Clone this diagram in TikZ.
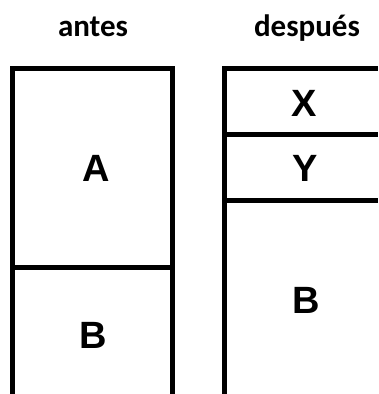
\documentclass[tikz,border=0pt]{standalone}
\usepackage{fontspec}
\newfontfamily\titlefont{Carlito}
\newfontfamily\letterfont{Liberation Sans}
\begin{document}
\begin{tikzpicture}[x=1pt,y=-1pt,
  wall/.style={line width=5pt,line join=miter,draw=black},
  title/.style={anchor=base,inner sep=0pt,font=\titlefont\bfseries\fontsize{31}{31}\selectfont},
  letter/.style={anchor=base,inner sep=0pt,font=\letterfont\bfseries\fontsize{38}{38}\selectfont}]
\useasboundingbox (0,0) rectangle (378,394);
% left stack
\draw[wall] (12.5,394) -- (12.5,68.5) -- (172.5,68.5) -- (172.5,394);
\draw[wall] (12.5,267) -- (172.5,267);
% right stack
\draw[wall] (224.5,394) -- (224.5,68.5) -- (378,68.5);
\draw[wall] (224.5,134.5) -- (378,134.5);
\draw[wall] (224.5,200.5) -- (378,200.5);
% titles
\node[title] (antes) at (93,36.7) {antes};
\node[title] (despues) at (307,36.7) {después};
% letters
\node[letter] (A) at (96,181) {A};
\node[letter] (B1) at (93.5,348) {B};
\node[letter] (X) at (304.5,116.7) {X};
\node[letter] (Y) at (305,181.7) {Y};
\node[letter] (B2) at (306,313) {B};
\end{tikzpicture}
\end{document}
